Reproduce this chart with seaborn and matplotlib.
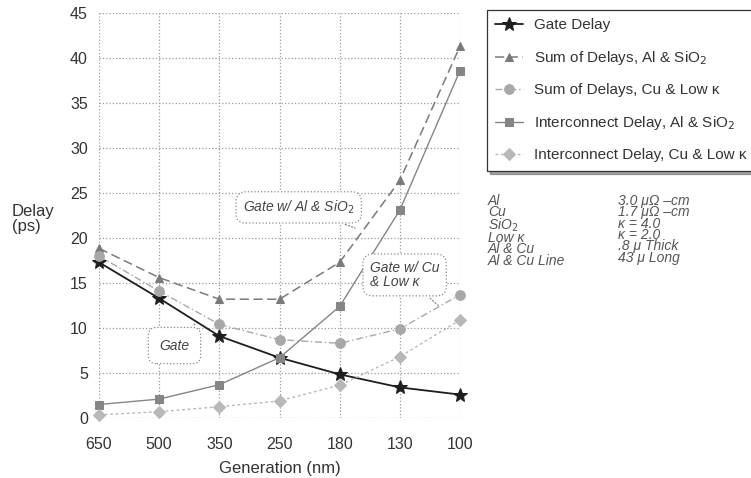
import pandas as pd
import matplotlib.pyplot as plt
import seaborn as sns

# data
generations = ['650', '500', '350', '250', '180', '130', '100']
gate_delay = [17.3, 13.3, 9.1, 6.7, 4.85, 3.4, 2.6]
sum_al_sio2 = [18.85, 15.6, 13.2, 13.2, 17.3, 26.4, 41.3]
sum_cu_lowk = [18.0, 14.1, 10.4, 8.7, 8.3, 9.9, 13.7]
inter_al_sio2 = [1.5, 2.1, 3.7, 6.7, 12.4, 23.1, 38.6]
inter_cu_lowk = [0.35, 0.7, 1.25, 1.9, 3.65, 6.8, 10.9]

series_names = ['Gate Delay', 'Sum of Delays, Al & SiO$_2$', 'Sum of Delays, Cu & Low κ',
                'Interconnect Delay, Al & SiO$_2$', 'Interconnect Delay, Cu & Low κ']
series_vals = [gate_delay, sum_al_sio2, sum_cu_lowk, inter_al_sio2, inter_cu_lowk]

# material notes
left_col = ['Al', 'Cu', 'SiO$_2$', 'Low κ', 'Al & Cu', 'Al & Cu Line']
right_col = ['3.0 μΩ –cm', '1.7 μΩ –cm', 'κ = 4.0', 'κ = 2.0', '.8 μ Thick', '43 μ Long']

# styles per series
styles = [
    dict(color='#1e1e1e', marker='*', ls='-', ms=10, lw=1.3),
    dict(color='#7a7a7a', marker='^', ls=(0, (6, 3)), ms=6, lw=1.1),
    dict(color='#a8a8a8', marker='o', ls=(0, (5, 2, 1, 2)), ms=7, lw=1.0),
    dict(color='#858585', marker='s', ls='-', ms=6, lw=1.0),
    dict(color='#b8b8b8', marker='D', ls=(0, (2, 2)), ms=6, lw=1.0),
]

df = pd.DataFrame({'generation': generations * len(series_names),
                   'delay': sum(series_vals, []),
                   'series': [n for n in series_names for _ in generations]})

sns.set_style('white')
plt.rcParams['font.family'] = ['Liberation Sans', 'DejaVu Sans']

fig = plt.figure(figsize=(7.51, 4.78), dpi=100)
ax = fig.add_axes([99 / 751, 1 - 418 / 478, 361 / 751, 405 / 478])

for name, st in zip(series_names, styles):
    sub = df[df['series'] == name]
    sns.lineplot(data=sub, x='generation', y='delay', ax=ax, label=name,
                 color=st['color'], marker=st['marker'], linestyle=st['ls'],
                 markersize=st['ms'], linewidth=st['lw'], markeredgecolor=st['color'],
                 legend=True)

for ln in ax.lines:
    ln.set_clip_on(False)

ax.set_xlim(0, len(generations) - 1)
ax.set_ylim(0, 45)
ax.set_yticks(range(0, 46, 5))
ax.set_xticks(range(len(generations)))
ax.set_xticklabels(generations)
ax.tick_params(labelsize=11.5, colors='#333333', length=0)
ax.tick_params(axis='x', pad=14)
ax.tick_params(axis='y', pad=8)
ax.grid(True, color='#9a9a9a', linestyle=':', linewidth=0.9)
for s in ax.spines.values():
    s.set_visible(False)
ax.set_xlabel('Generation (nm)', fontsize=12, color='#333333', labelpad=6)
ax.set_ylabel('')
fig.text(12 / 751, 1 - 219 / 478, 'Delay\n(ps)', fontsize=12, color='#333333',
         va='center', ha='left', linespacing=0.95)

# legend box
handles, labels = ax.get_legend_handles_labels()
ax.get_legend().remove()
leg = fig.legend(handles, labels, loc='upper left', bbox_to_anchor=(487 / 751, 1 - 10 / 478),
                 frameon=True, fancybox=False, shadow=True, fontsize=11,
                 labelspacing=1.08, handlelength=1.8, borderpad=0.55, handletextpad=0.7,
                 borderaxespad=0)
leg.get_frame().set_edgecolor('#333333')
leg.get_frame().set_linewidth(0.9)
for t in leg.get_texts():
    t.set_color('#333333')

fig.text(488 / 751, 1 - 194 / 478, '\n'.join(left_col), fontsize=10, style='italic',
         color='#555555', va='top', ha='left', linespacing=0.76)
fig.text(618 / 751, 1 - 194 / 478, '\n'.join(right_col), fontsize=10, style='italic',
         color='#555555', va='top', ha='left', linespacing=0.76)

# callouts
box = dict(boxstyle='round,pad=0.5,rounding_size=0.7', fc='white', ec='#8a8a8a',
           lw=0.9, ls=':')
arrow = dict(arrowstyle='-', color='#8a8a8a', lw=0.9, ls=':')
ax.annotate('Gate w/ Al & SiO$_2$', xy=(4.3, 21.0), xytext=(3.32, 23.4), fontsize=10,
            style='italic', color='#444444', ha='center', va='center', bbox=box,
            arrowprops=arrow)
ax.annotate('Gate w/ Cu\n& Low κ', xy=(5.67, 12.3), xytext=(5.08, 15.9), fontsize=10,
            style='italic', color='#444444', ha='center', va='center', bbox=box,
            arrowprops=arrow, linespacing=1.0, multialignment='left')
ax.annotate('Gate', xy=(1.63, 10.7), xytext=(1.255, 8.05), fontsize=10,
            style='italic', color='#444444', ha='center', va='center',
            bbox=dict(boxstyle='round,pad=0.8,rounding_size=0.6', fc='white', ec='#8a8a8a',
                      lw=0.9, ls=':'),
            arrowprops=arrow)

fig.savefig('out.png', dpi=100)
